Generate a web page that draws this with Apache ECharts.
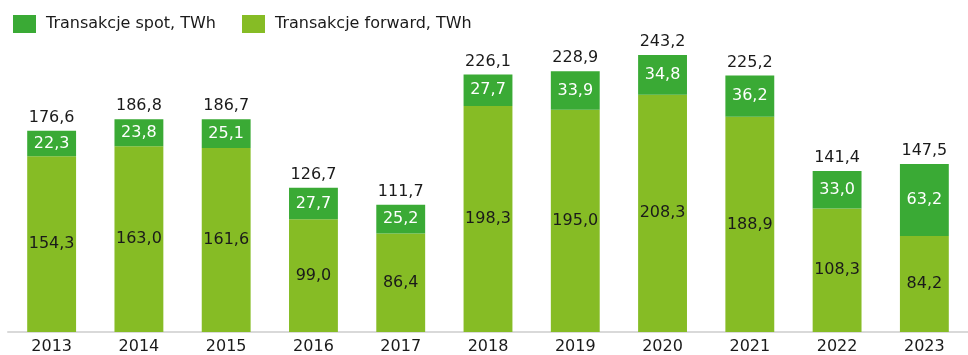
<!DOCTYPE html>
<html>
<head>
<meta charset="utf-8">
<script src="https://cdn.jsdelivr.net/npm/echarts@6/dist/echarts.min.js"></script>
<style>
  html, body { margin: 0; padding: 0; background: #ffffff; }
  #chart { width: 968px; height: 355px; }
</style>
</head>
<body>
<div id="chart"></div>
<script>
// Years on the category axis
const years = ['2013', '2014', '2015', '2016', '2017', '2018', '2019', '2020', '2021', '2022', '2023'];
// Forward transactions, TWh
const forwardValues = [154.3, 163.0, 161.6, 99.0, 86.4, 198.3, 195.0, 208.3, 188.9, 108.3, 84.2];
// Spot transactions, TWh
const spotValues = [22.3, 23.8, 25.1, 27.7, 25.2, 27.7, 33.9, 34.8, 36.2, 33.0, 63.2];
// Stated annual totals, TWh
const totals = [176.6, 186.8, 186.7, 126.7, 111.7, 226.1, 228.9, 243.2, 225.2, 141.4, 147.5];

const FONT = 'DejaVu Sans, Verdana, sans-serif';
const SIZE = 16;
const fmt = v => v.toFixed(1).replace('.', ',');

const chart = echarts.init(document.getElementById('chart'), null, { renderer: 'canvas' });
chart.setOption({
  animation: false,
  textStyle: { fontFamily: FONT },
  legend: {
    left: 8,
    top: 10,
    itemWidth: 23,
    itemHeight: 18,
    itemGap: 26,
    icon: 'rect',
    textStyle: { fontFamily: FONT, fontSize: SIZE, color: '#1a1a1a', padding: [0, 0, 0, 5] },
    data: ['Transakcje spot, TWh', 'Transakcje forward, TWh']
  },
  grid: { left: 8, right: -15, top: 13, bottom: 23, containLabel: false },
  xAxis: {
    type: 'category',
    data: years,
    axisLine: { lineStyle: { color: '#d9d9d9', width: 2 } },
    axisTick: { show: false },
    axisLabel: { fontFamily: FONT, fontSize: SIZE, color: '#1a1a1a', margin: 7 }
  },
  yAxis: {
    type: 'value',
    min: 0,
    max: 280,
    show: false,
    splitLine: { show: false }
  },
  series: [
    {
      name: 'Transakcje forward, TWh',
      type: 'bar',
      stack: 'total',
      barWidth: '56%',
      data: forwardValues,
      itemStyle: { color: '#86bc25' },
      label: {
        show: true,
        position: 'inside',
        fontFamily: FONT,
        fontSize: SIZE,
        color: '#1a1a1a',
        formatter: p => fmt(p.value)
      }
    },
    {
      name: 'Transakcje spot, TWh',
      type: 'bar',
      stack: 'total',
      barWidth: '56%',
      data: spotValues,
      itemStyle: { color: '#3aaa35' },
      label: {
        show: true,
        position: 'inside',
        fontFamily: FONT,
        fontSize: SIZE,
        color: '#ffffff',
        formatter: p => fmt(p.value)
      }
    },
    {
      // invisible carrier for the total labels above each stack
      name: 'Razem',
      type: 'bar',
      stack: 'total',
      barWidth: '56%',
      data: years.map(() => 0),
      itemStyle: { color: 'transparent' },
      label: {
        show: true,
        position: 'top',
        distance: 5,
        fontFamily: FONT,
        fontSize: SIZE,
        color: '#1a1a1a',
        formatter: p => fmt(totals[p.dataIndex])
      }
    }
  ]
});
</script>
</body>
</html>
